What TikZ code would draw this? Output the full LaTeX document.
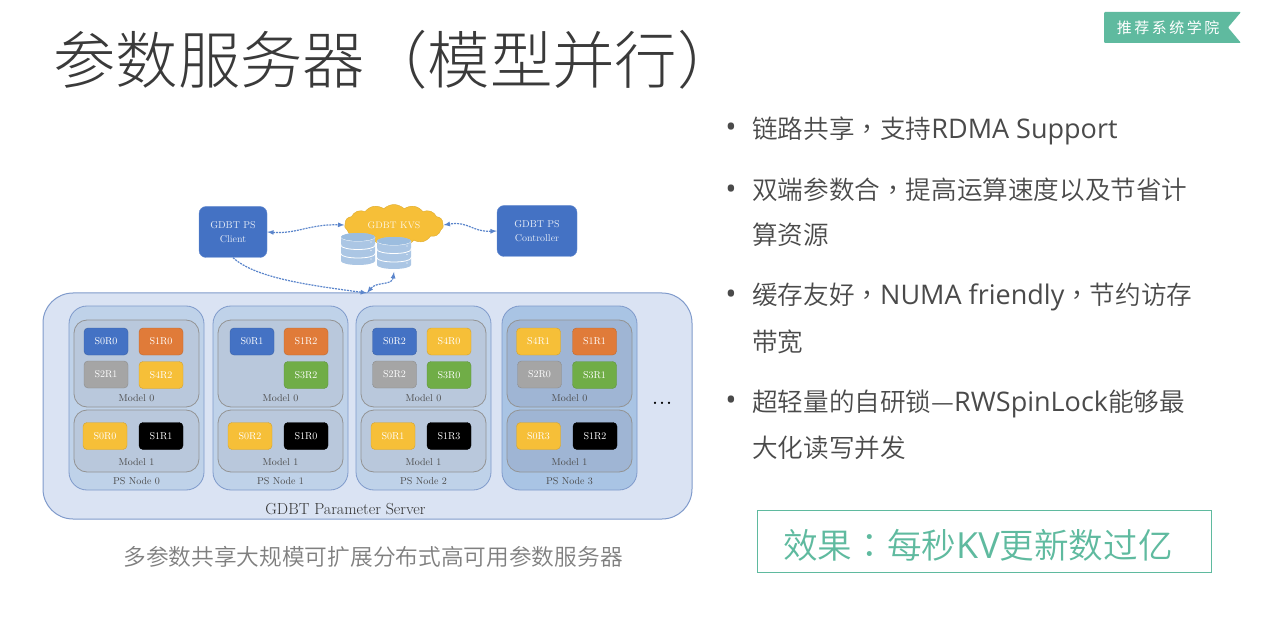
\documentclass[tikz,border=0pt]{standalone}
\usepackage{fontspec}
\usetikzlibrary{calc,shapes.symbols}
\setmainfont{Latin Modern Roman}
\newfontfamily\cjk{Noto Sans CJK SC Light}
\newfontfamily\cjkd{Noto Sans CJK SC DemiLight}
\newfontfamily\cjkp{Noto Sans CJK TC DemiLight}
\newfontfamily\cjkr{Noto Sans CJK SC}
\newfontfamily\lat{Open Sans}
\definecolor{titlegray}{HTML}{3A3A3A}
\definecolor{bodygray}{HTML}{4A4A4A}
\definecolor{capgray}{HTML}{7F7F7F}
\definecolor{teal}{HTML}{5FBA9F}
\definecolor{psblue}{HTML}{4472C4}
\definecolor{psorange}{HTML}{E07B39}
\definecolor{psgray}{HTML}{A5A5A5}
\definecolor{psyellow}{HTML}{F6BF38}
\definecolor{psgreen}{HTML}{70AD47}
\definecolor{serverfill}{HTML}{DAE3F3}
\definecolor{serverline}{HTML}{7F9ACB}
\definecolor{nodefill}{HTML}{BFD2E9}
\definecolor{nodefillb}{HTML}{A9C4E4}
\definecolor{modelfill}{HTML}{B9C8DC}
\definecolor{modelfillb}{HTML}{9FB5D4}
\definecolor{dbblue}{HTML}{ABC6E4}
\definecolor{dbtop}{HTML}{9CBDDF}
\definecolor{linkblue}{HTML}{5B85CB}
% one stack of discs
\newcommand{\makedb}[2]{
    \foreach \k in {2,1,0} {
        \fill[dbblue] ($(#1,#2)+(-17,\k*8.5+4)$) -- ($(#1,#2)+(-17,\k*8.5+11)$) arc[start angle=180,end angle=0,x radius=17,y radius=4] -- ($(#1,#2)+(17,\k*8.5+4)$) arc[start angle=0,end angle=-180,x radius=17,y radius=4];
        \draw[white,line width=.8pt] ($(#1,#2)+(-17,\k*8.5+4)$) arc[start angle=180,end angle=0,x radius=17,y radius=4];
        \fill[white] ($(#1,#2)+(13,\k*8.5+9)$) circle[radius=.7];
    }
    \fill[dbtop] ($(#1,#2)+(0,4)$) ellipse[x radius=17,y radius=4];
}
\newcommand{\bul}[3]{
    \node (#1) [bullet] at (#2,#3) {\lat\textbullet};
}
\tikzstyle{body}=[anchor=base west,inner sep=0pt,text=bodygray,font=\fontsize{25.6}{26}\selectfont]
\tikzstyle{bullet}=[inner sep=0pt,text=bodygray,font=\fontsize{30}{30}\selectfont]
\tikzstyle{shard}=[rounded corners=4pt,minimum width=44pt,minimum height=27pt,inner sep=0pt,text=white,font=\fontsize{10}{10}\selectfont]
\tikzstyle{mainbox}=[rounded corners=7pt,fill=psblue,draw=psblue!80!white,minimum height=51pt,inner sep=0pt,align=center,text=white!85!psblue,font=\fontsize{10}{14}\selectfont]
\tikzstyle{psbox}=[draw=serverline,fill=nodefill,line width=.8pt,rounded corners=18pt,minimum width=135pt,minimum height=184pt,inner sep=0pt]
\tikzstyle{modelbox}=[draw=gray!85,line width=.8pt,fill=modelfill,rounded corners=13pt,minimum width=125pt,inner sep=0pt]
\tikzstyle{small}=[inner sep=0pt,text=black!70,font=\fontsize{10}{10}\selectfont]
\tikzstyle{link}=[dash pattern=on 2pt off 1pt,line width=1.2pt,linkblue,>=latex]

\begin{document}
\begin{tikzpicture}[x=1pt,y=-1pt]
\useasboundingbox (0,0) rectangle (1282,620);

\node (title) [anchor=west,inner sep=0pt,text=titlegray,font=\fontsize{62.4}{62}\cjk] at (53,60) {参数服务器（模型并行）};

% logo
\fill[teal,rounded corners=1pt] (1104,12) -- (1241,12) -- (1228,27.5) -- (1241,43) -- (1104,43) -- cycle;
\node (logo) [inner sep=0pt,text=white,font=\fontsize{15}{15}\cjkr] at (1168,28) {推\,荐\,系\,统\,学\,院};

% right column
\bul{b0}{731}{130}
\bul{b1}{731}{192}
\bul{b2}{731}{297}
\bul{b3}{731}{403}
\node (t0) [body] at (752,139) {\cjkd 链路共享\cjkp ，\cjkd 支持\fontsize{27}{27}\lat RDMA Support};
\node (t1) [body] at (752,200) {\cjkd 双端参数合\cjkp ，\cjkd 提高运算速度以及节省计};
\node (t1b) [body] at (752,245) {\cjkd 算资源};
\node (t2) [body] at (752,305) {\cjkd 缓存友好\cjkp ，{\fontsize{27}{27}\lat NUMA friendly}\cjkp ，\cjkd 节约访存};
\node (t2b) [body] at (752,351) {\cjkd 带宽};
\node (t3) [body] at (752,411) {\cjkd 超轻量的自研锁—{\fontsize{27}{27}\lat RWSpinLock}\cjkd 能够最};
\node (t3b) [body] at (752,457) {\cjkd 大化读写并发};
\node (effect) [draw=teal,thick,minimum width=454pt,minimum height=62pt,inner sep=0pt] at (984,541) {};
\node (effecttext) [inner sep=0pt,text=teal,font=\fontsize{34.6}{36}\selectfont] at (978,545) {\cjkd 效果\cjkp ：\cjkd 每秒\fontsize{36}{36}\lat KV\cjkd\fontsize{34.6}{36}\selectfont 更新数过亿};
\node (caption) [inner sep=0pt,text=capgray,font=\fontsize{22.7}{23}\cjkd] at (373,557) {多参数共享大规模可扩展分布式高可用参数服务器};

% server
\node (server) [draw=serverline,line width=1pt,fill=serverfill,rounded corners=30pt,minimum width=649pt,minimum height=226pt,inner sep=0pt] at (367.5,406) {};
\node (serverlabel) [inner sep=0pt,text=black!80,font=\fontsize{16}{16}\selectfont] at (345.5,509) {GDBT Parameter Server};
\node (more) [inner sep=0pt,font=\fontsize{28}{28}\selectfont] at (662,403) {...};

% ps nodes
\foreach \n/\x/\a/\b in {0/136.5/nodefill/modelfill,1/280.5/nodefill/modelfill,2/423.5/nodefill/modelfill,3/569.5/nodefillb/modelfillb} {
    \node (psnode\n) [psbox,fill=\a] at (\x,398) {};
    \node (modelA\n) [modelbox,fill=\b,minimum height=87pt] at (\x,363.5) {};
    \node (modelB\n) [modelbox,fill=\b,minimum height=62pt] at (\x,441) {};
    \node (labelA\n) [small] at (\x,398) {Model 0};
    \node (labelB\n) [small] at (\x,462) {Model 1};
    \node (labelC\n) [small] at (\x,481) {PS Node \n};
}

% shards
\foreach \x/\y/\c/\t in {
    106/341.5/psblue/S0R0,161/341.5/psorange/S1R0,106/374.5/psgray/S2R1,161/375/psyellow/S4R2,105/436/psyellow/S0R0,161/436/black/S1R1,
    252/341.5/psblue/S0R1,306/341.5/psorange/S1R2,306/375/psgreen/S3R2,250/436/psyellow/S0R2,306/436/black/S1R0,
    394.5/341.5/psblue/S0R2,449/341.5/psyellow/S4R0,394.5/374.5/psgray/S2R2,449/375/psgreen/S3R0,393/436/psyellow/S0R1,449/436/black/S1R3,
    538.5/341.5/psyellow/S4R1,594.5/341.5/psorange/S1R1,539.5/374.5/psgray/S2R0,594.5/375/psgreen/S3R1,538.5/436/psyellow/S0R3,595/436/black/S1R2} {
    \node (shard\x-\y) [shard,fill=\c,draw=\c!85!black] at (\x,\y) {\t};
}

% top row
\node (client) [mainbox,minimum width=68pt] at (233,232) {GDBT PS\\Client};
\node (controller) [mainbox,minimum width=80pt] at (537,231) {GDBT PS\\Controller};
\node (kvs) [cloud,cloud puffs=15,cloud puff arc=90,aspect=3,fill=psyellow,draw=psyellow!90!black,minimum width=99pt,minimum height=41pt,inner sep=0pt,text=white!85!psyellow,font=\fontsize{9.5}{10}\selectfont] at (394,225) {GDBT KVS};
\makedb{358}{233}
\makedb{394}{237}
\coordinate (dbout) at (394,272);
\coordinate (servertop) at (367,293);

\draw[link,<->] (client.east) .. controls +(30,2) and +(-35,-1) .. (kvs.west);
\draw[link,<->] (controller.west) .. controls +(-25,1) and +(25,-4) .. (kvs.east);
\draw[link,->] (client.south) .. controls +(22,20) and +(-60,-8) .. (servertop);
\draw[link,<->] (dbout) .. controls +(-2,14) and +(10,-12) .. (servertop);
\end{tikzpicture}
\end{document}
